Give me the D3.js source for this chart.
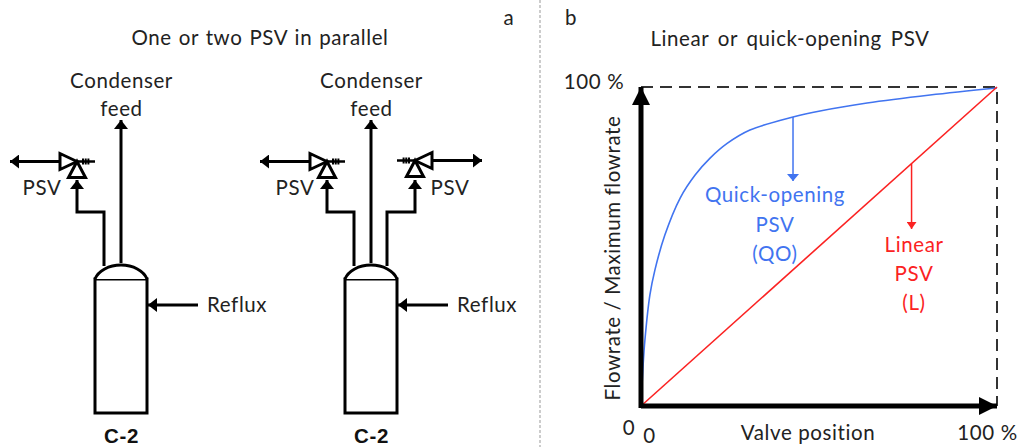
<!DOCTYPE html>
<html>
<head>
<meta charset="utf-8">
<script src="https://cdn.jsdelivr.net/npm/d3@7"></script>
<style>
  html, body { margin: 0; padding: 0; background: #fff; }
  text { font-family: Lato, "Open Sans", sans-serif; font-size: 20.5px; fill: #222; }
</style>
</head>
<body>
<div id="chart"></div>
<script>
// valve curves, percent of opening / percent of max flow
const linearX = [0, 100];
const linearY = [0, 100];
const quickX = [0, 0.6, 1.1, 2.5, 3.9, 6.7, 11, 15.2, 19.4, 24.2, 30.6, 42.7, 50.3, 63.5, 81.2, 100];
const quickY = [0, 12.9, 20.7, 34.8, 42.6, 53.6, 65.2, 72.4, 77.7, 82.3, 86.5, 90.6, 92.5, 95, 97.5, 99.7];
const xTickLabels = ["0", "100 %"];
const yTickLabels = ["0", "100 %"];
const quickLabel = ["Quick-opening", "PSV", "(QO)"];
const linearLabel = ["Linear", "PSV", "(L)"];

const width = 1018, height = 447;
const blue = "#4174f0", red = "#fb2222", black = "#000";

const svg = d3.select("#chart").append("svg")
    .attr("width", width)
    .attr("height", height)
    .style("display", "block");

const defs = svg.append("defs");
function marker(id, color, w, h) {
    defs.append("marker")
        .attr("id", id)
        .attr("markerUnits", "userSpaceOnUse")
        .attr("viewBox", `0 0 ${w} ${h}`)
        .attr("markerWidth", w)
        .attr("markerHeight", h)
        .attr("refX", w)
        .attr("refY", h / 2)
        .attr("orient", "auto")
        .append("path")
        .attr("d", `M0,0L${w},${h / 2}L0,${h}Z`)
        .attr("fill", color);
}
marker("head", black, 9, 14);
marker("headBig", black, 18, 18);
marker("headBlue", blue, 7, 12);
marker("headRed", red, 7, 10);

function label(x, y, str, opts) {
    const o = opts || {};
    return svg.append("text")
        .attr("x", x)
        .attr("y", y)
        .attr("text-anchor", o.anchor || "middle")
        .style("fill", o.color || "#222")
        .style("letter-spacing", "0.6px")
        .style("word-spacing", (o.words || 0) + "px")
        .text(str);
}

function pipe(pts, sw, head) {
    const p = svg.append("path")
        .attr("d", d3.line()(pts))
        .attr("fill", "none")
        .attr("stroke", black)
        .attr("stroke-width", sw);
    if (head) p.attr("marker-end", `url(#${head})`);
    return p;
}

/****************** Panel a **************************/
label(260, 45, "One or two PSV in parallel", { words: 1.2 });
label(509, 25, "a");
label(571, 25, "b");

svg.append("line")
    .attr("x1", 540).attr("x2", 540)
    .attr("y1", 0).attr("y2", height)
    .attr("stroke", "#999")
    .attr("stroke-dasharray", "3,2");

// dir = -1 discharge to the left, 1 to the right
function psv(cx, cy, dir, tipX) {
    const g = svg.append("g").attr("fill", "#fff").attr("stroke", black)
        .attr("stroke-width", 3).attr("stroke-linejoin", "miter");
    const baseX = cx + dir * 17;
    pipe([[baseX, cy], [tipX, cy]], 3, "head");
    g.append("path").attr("d", d3.line()([[cx, cy], [baseX, cy - 8], [baseX, cy + 8]]) + "Z");
    g.append("path").attr("d", d3.line()([[cx, cy], [cx - 8.5, cy + 16], [cx + 8.5, cy + 16]]) + "Z");
    pipe([[cx, cy], [cx - dir * 18, cy]], 2.5);
    pipe([[cx - dir * 5, cy], [cx - dir * 13, cy]], 6).attr("stroke-dasharray", "2,0.7");
}

function column(cx) {
    const left = cx - 26.5, right = cx + 25.5, top = 279, bottom = 413;
    svg.append("rect")
        .attr("x", left).attr("y", top)
        .attr("width", right - left).attr("height", bottom - top)
        .attr("fill", "#fff").attr("stroke", black).attr("stroke-width", 3);
    svg.append("path")
        .attr("d", `M${left},${top}A27,19 0 0 1 ${right},${top}`)
        .attr("fill", "#fff").attr("stroke", black).attr("stroke-width", 3);
    pipe([[right + 51, 305], [right + 1, 305]], 3, "head");
    label(right + 60, 312, "Reflux", { anchor: "start" });
    svg.append("text")
        .attr("x", cx).attr("y", 442.5)
        .attr("text-anchor", "middle")
        .style("font-family", "'Liberation Sans', Arial, sans-serif")
        .style("font-weight", "bold")
        .style("font-size", "20.5px")
        .style("letter-spacing", "0.6px")
        .style("fill", "#111")
        .text("C-2");
}

function condenser(cx) {
    pipe([[cx - 0.5, 263], [cx - 0.5, 120]], 3, "head");
    label(cx, 88, "Condenser");
    label(cx, 116, "feed");
}

// left drawing
pipe([[104, 266], [104, 212], [77, 212], [77, 180]], 3, "head");
condenser(121.5);
psv(77, 161.5, -1, 10);
column(121.5);
label(42, 195, "PSV");

// right drawing
pipe([[354, 266], [354, 212], [327, 212], [327, 180]], 3, "head");
pipe([[387, 266], [387, 212], [415, 212], [415, 180]], 3, "head");
condenser(371.5);
psv(327, 161.5, -1, 260);
psv(415, 160.5, 1, 482);
column(371.5);
label(295, 195, "PSV");
label(450, 195, "PSV");

/****************** Panel b **************************/
label(790, 46, "Linear or quick-opening PSV", { words: 3 });

const x = d3.scaleLinear().domain([0, 100]).range([641, 997]);
const y = d3.scaleLinear().domain([0, 100]).range([406, 87]);

const quickData = quickX.map((d, i) => ({ x: d, y: quickY[i] }));
const linearData = linearX.map((d, i) => ({ x: d, y: linearY[i] }));

const plotLine = d3.line()
    .x(d => x(d.x))
    .y(d => y(d.y));

// dashed upper limits
svg.append("path")
    .attr("d", d3.line()([[x(0), y(100)], [x(100), y(100)], [x(100), y(0)]]))
    .attr("fill", "none")
    .attr("stroke", "#333")
    .attr("stroke-width", 2)
    .attr("stroke-dasharray", "12,7");

svg.append("path")
    .datum(quickData)
    .attr("d", plotLine.curve(d3.curveCatmullRom.alpha(0.5)))
    .attr("fill", "none")
    .attr("stroke", blue)
    .attr("stroke-width", 1.6);

svg.append("path")
    .datum(linearData)
    .attr("d", plotLine.curve(d3.curveLinear))
    .attr("fill", "none")
    .attr("stroke", red)
    .attr("stroke-width", 1.6);

// axes: thick arrows plus tick labels from d3.axis
const xAxis = d3.axisBottom(x).tickValues([0, 100]).tickSize(0)
    .tickFormat((d, i) => xTickLabels[i]);
const yAxis = d3.axisLeft(y).tickValues([0, 100]).tickSize(0)
    .tickFormat((d, i) => yTickLabels[i]);

const gx = svg.append("g").attr("transform", `translate(0,${y(0)})`).call(xAxis);
const gy = svg.append("g").attr("transform", `translate(${x(0)},0)`).call(yAxis);
gx.select(".domain").remove();
gy.select(".domain").remove();
gx.selectAll("text").attr("dy", null).attr("y", 0).attr("x", 0)
    .style("letter-spacing", "0.6px")
    .attr("transform", (d, i) => i === 0 ? "translate(8,36.5)" : "translate(-10,34)");
gy.selectAll("text").attr("dy", null).attr("x", 0).attr("y", 0)
    .style("letter-spacing", "0.6px")
    .attr("text-anchor", "middle")
    .attr("transform", (d, i) => i === 0 ? "translate(-12,28)" : "translate(-47,1)");

pipe([[x(0), y(0)], [x(100), y(0)]], 5, "headBig");
pipe([[x(0), y(0) + 2], [x(0), y(100)]], 5, "headBig");

label(808, 440, "Valve position");
svg.append("text")
    .attr("transform", "translate(620,258) rotate(-90)")
    .attr("text-anchor", "middle")
    .style("letter-spacing", "0.6px")
    .text("Flowrate / Maximum flowrate");

// callouts
svg.append("line")
    .attr("x1", x(42.7)).attr("x2", x(42.7))
    .attr("y1", y(90.6)).attr("y2", y(70.5))
    .attr("stroke", blue).attr("stroke-width", 1.5)
    .attr("marker-end", "url(#headBlue)");
quickLabel.forEach((d, i) => label(775, 202 + i * 29.5, d, { color: blue }));

svg.append("line")
    .attr("x1", x(76)).attr("x2", x(76))
    .attr("y1", y(76)).attr("y2", y(55.5))
    .attr("stroke", red).attr("stroke-width", 1.5)
    .attr("marker-end", "url(#headRed)");
linearLabel.forEach((d, i) => label(914, 252 + i * 29, d, { color: red }));
</script>
</body>
</html>
